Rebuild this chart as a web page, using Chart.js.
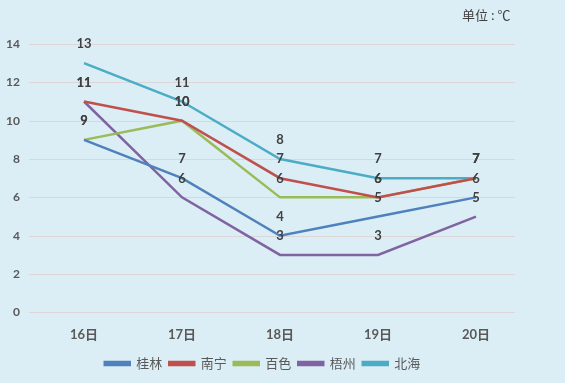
<!DOCTYPE html>
<html>
<head>
<meta charset="utf-8">
<script src="https://cdn.jsdelivr.net/npm/chart.js@4/dist/chart.umd.min.js"></script>
<style>
    html, body { margin: 0; padding: 0; background: #DCEEF5; }
    #wrap { width: 565px; height: 383px; position: relative; }
</style>
</head>
<body>
<div id="wrap"><canvas id="chart"></canvas></div>
<script>
// Data
const days = ['16日', '17日', '18日', '19日', '20日'];
const guilin = [9, 7, 4, 5, 6];
const nanning = [11, 10, 7, 6, 7];
const baise = [9, 10, 6, 6, 7];
const wuzhou = [11, 6, 3, 3, 5];
const beihai = [13, 11, 8, 7, 7];
const yTicks = [0, 2, 4, 6, 8, 10, 12, 14];

const FONT = 'Lato, "Noto Sans CJK SC", sans-serif';
const TEXT_COLOR = '#595959';

function series(label, data, color) {
    return {
        label: label,
        data: data,
        borderColor: color,
        backgroundColor: color,
        borderWidth: 2.5,
        pointRadius: 0,
        tension: 0
    };
}

// Horizontal gridlines, a bit left of the plot like the original
const gridLines = {
    id: 'gridLines',
    beforeDatasetsDraw(chart) {
        const ctx = chart.ctx;
        const y = chart.scales.y;
        ctx.save();
        ctx.strokeStyle = '#DCD6D6';
        ctx.lineWidth = 1;
        yTicks.forEach(v => {
            const py = Math.round(y.getPixelForValue(v)) + 0.5;
            ctx.beginPath();
            ctx.moveTo(29, py);
            ctx.lineTo(515, py);
            ctx.stroke();
        });
        ctx.restore();
    }
};

// Value labels above each point
const valueLabels = {
    id: 'valueLabels',
    afterDatasetsDraw(chart) {
        const ctx = chart.ctx;
        ctx.save();
        ctx.font = 'bold 13px ' + FONT;
        ctx.fillStyle = '#404040';
        ctx.textAlign = 'center';
        ctx.textBaseline = 'middle';
        chart.data.datasets.forEach((ds, i) => {
            chart.getDatasetMeta(i).data.forEach((pt, j) => {
                ctx.fillText(ds.data[j], pt.x, pt.y - 19);
            });
        });
        ctx.restore();
    }
};

// Unit note at top right
const unitNote = {
    id: 'unitNote',
    afterDraw(chart) {
        const ctx = chart.ctx;
        ctx.save();
        ctx.font = '13px "Noto Sans CJK SC", sans-serif';
        ctx.fillStyle = '#404040';
        ctx.textAlign = 'left';
        ctx.textBaseline = 'middle';
        ctx.fillText('单位 : ℃', 462, 15);
        ctx.restore();
    }
};

new Chart(document.getElementById('chart'), {
    type: 'line',
    data: {
        labels: days,
        datasets: [
            series('桂林', guilin, '#4F81BD'),
            series('南宁', nanning, '#C0504D'),
            series('百色', baise, '#9BBB59'),
            series('梧州', wuzhou, '#8064A2'),
            series('北海', beihai, '#4BACC6')
        ]
    },
    options: {
        responsive: true,
        maintainAspectRatio: false,
        animation: false,
        layout: {
            padding: { top: 44, right: 40, left: 0, bottom: 3 }
        },
        plugins: {
            legend: {
                position: 'bottom',
                labels: {
                    boxWidth: 25,
                    boxHeight: 3,
                    padding: 7,
                    color: TEXT_COLOR,
                    font: { size: 13, family: FONT }
                }
            },
            tooltip: { enabled: false }
        },
        scales: {
            x: {
                offset: true,
                grid: { display: false },
                border: { display: false },
                ticks: {
                    color: TEXT_COLOR,
                    padding: 7,
                    font: { size: 13, weight: 'bold', family: FONT }
                }
            },
            y: {
                min: 0,
                max: 14,
                afterBuildTicks: function(scale) {
                    scale.ticks = yTicks.map(v => ({ value: v }));
                },
                afterFit: function(scale) {
                    scale.width = 35;
                },
                grid: { display: false },
                border: { display: false },
                ticks: {
                    color: TEXT_COLOR,
                    padding: 7,
                    font: { size: 12, weight: 'bold', family: FONT }
                }
            }
        }
    },
    plugins: [gridLines, valueLabels, unitNote]
});
</script>
</body>
</html>
